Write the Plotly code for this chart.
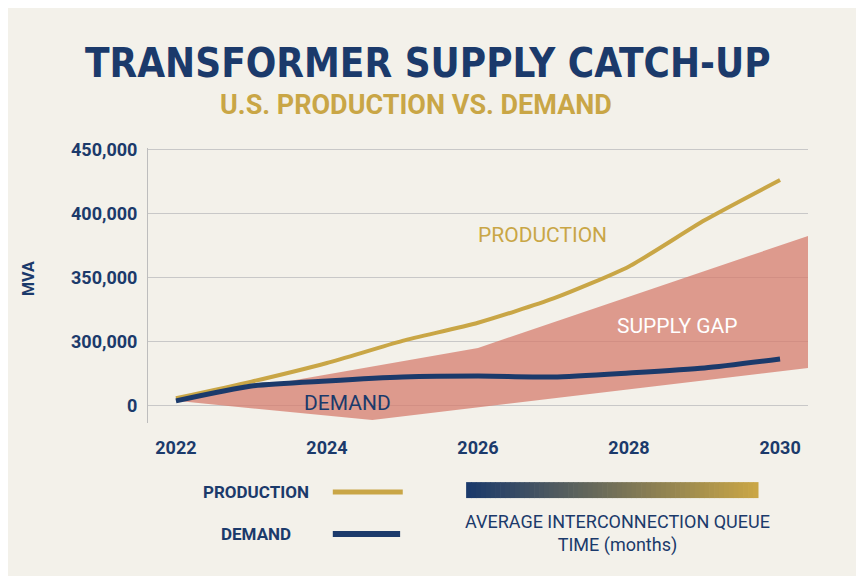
import plotly.graph_objects as go

NAVY = "#1b3a6b"
GOLD = "#c9a646"
BG = "#f3f1ea"

years = [2022, 2023, 2024, 2025, 2026, 2027, 2028, 2029, 2030]
production = [256000, 269000, 283600, 300800, 315000, 334000, 359000, 395000, 426500]
demand = [254000, 265600, 269500, 272600, 273400, 272600, 275800, 279700, 286700]

gap_x = [2022, 2026, 2030.37]
gap_upper = [254000, 295300, 382800]
gap_lower_x = [2022, 2024.6, 2030.37]
gap_lower = [254000, 239000, 279700]

tick_vals = [250000, 300000, 350000, 400000, 450000]
tick_text = ["0", "300,000", "350,000", "400,000", "450,000"]
x_ticks = [2022, 2024, 2026, 2028, 2030]

fig = go.Figure()

# supply gap polygon
fig.add_trace(go.Scatter(
    x=gap_x + gap_lower_x[::-1], y=gap_upper + gap_lower[::-1],
    fill="toself", fillcolor="rgba(214,124,110,0.75)", line=dict(width=0),
    mode="lines", hoverinfo="skip", showlegend=False))

fig.add_trace(go.Scatter(x=years, y=production, mode="lines",
                         line=dict(color=GOLD, width=4, shape="spline", smoothing=0.6),
                         showlegend=False))
fig.add_trace(go.Scatter(x=years, y=demand, mode="lines",
                         line=dict(color=NAVY, width=5, shape="spline", smoothing=0.6),
                         showlegend=False))

tickfont = dict(family="Roboto", size=18, color=NAVY, weight=700)
fig.update_layout(
    width=864, height=576,
    paper_bgcolor=BG, plot_bgcolor=BG,
    margin=dict(l=140, r=64, t=140, b=161),
    font=dict(family="Roboto", color=NAVY),
    xaxis=dict(range=[2021.63, 2030.37], tickvals=x_ticks, showgrid=False,
               zeroline=False, tickfont=tickfont, ticks="", ticklabelstandoff=12),
    yaxis=dict(range=[236700, 451500], tickvals=tick_vals, ticktext=tick_text,
               gridcolor="#c8c8c8", gridwidth=1, zeroline=False, showline=True,
               linecolor="#bdbdbd", tickfont=tickfont, ticks="", ticklabelstandoff=6),
)

ann = [
    dict(x=0.424, y=1.309, text="<b>TRANSFORMER SUPPLY CATCH-UP</b>",
         font=dict(size=40, color=NAVY, family="DejaVu Sans Condensed")),
    dict(x=0.406, y=1.156, text="<b>U.S. PRODUCTION VS. DEMAND</b>",
         font=dict(size=27, color=GOLD, family="Roboto")),
    dict(x=-0.182, y=0.527, text="<b>MVA</b>", textangle=-90,
         font=dict(size=16, color=NAVY)),
    dict(x=0.598, y=0.684, text="PRODUCTION", font=dict(size=21, color=GOLD)),
    dict(x=0.803, y=0.353, text="SUPPLY GAP", font=dict(size=21, color="white")),
    dict(x=0.303, y=0.073, text="DEMAND", font=dict(size=21, color=NAVY)),
    dict(x=0.164, y=-0.251, text="<b>PRODUCTION</b>", font=dict(size=17, color=NAVY)),
    dict(x=0.164, y=-0.404, text="<b>DEMAND</b>", font=dict(size=17, color=NAVY)),
    dict(x=0.712, y=-0.40, text="AVERAGE INTERCONNECTION QUEUE<br>TIME (months)",
         font=dict(size=18, color=NAVY)),
]
for a in ann:
    a.update(xref="paper", yref="paper", showarrow=False, xanchor="center", yanchor="middle")
    fig.add_annotation(a)

# legend line samples
fig.add_shape(type="line", xref="paper", yref="paper", x0=0.280, x1=0.386, y0=-0.251, y1=-0.251,
              line=dict(color=GOLD, width=5))
fig.add_shape(type="line", xref="paper", yref="paper", x0=0.280, x1=0.382, y0=-0.404, y1=-0.404,
              line=dict(color=NAVY, width=6))

# gradient bar navy -> gold
n = 60
c0 = (27, 58, 107)
c1 = (201, 166, 70)
x0, x1 = 0.482, 0.924
for i in range(n):
    t = i / (n - 1)
    col = "rgb(%d,%d,%d)" % tuple(int(c0[k] + (c1[k] - c0[k]) * t) for k in range(3))
    fig.add_shape(type="rect", xref="paper", yref="paper",
                  x0=x0 + (x1 - x0) * i / n, x1=x0 + (x1 - x0) * (i + 1) / n + 0.001,
                  y0=-0.273, y1=-0.215, fillcolor=col, line=dict(width=0))

fig.write_html("out.html")
